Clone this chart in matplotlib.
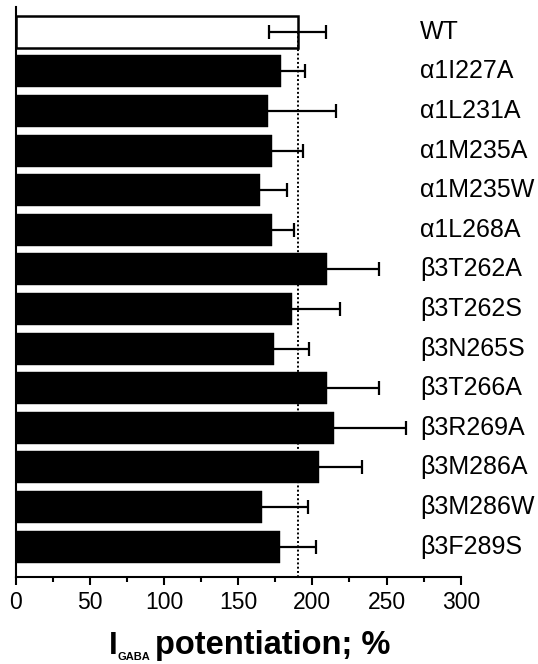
import matplotlib
matplotlib.use("Agg")
import matplotlib.pyplot as plt
from matplotlib.ticker import MultipleLocator

plt.rcParams['font.family'] = ['Liberation Sans', 'DejaVu Sans']

labels = ['WT', 'α1I227A', 'α1L231A', 'α1M235A', 'α1M235W', 'α1L268A',
          'β3T262A', 'β3T262S', 'β3N265S', 'β3T266A', 'β3R269A',
          'β3M286A', 'β3M286W', 'β3F289S']
means = [190, 179, 170, 173, 165, 173, 210, 186, 174, 210, 214.5, 204.5, 166, 178.5]
errs = [19.5, 16, 46, 20.5, 18, 14.5, 35, 32.5, 23.5, 35, 48.5, 29, 31, 24]
colors = ['white'] + ['black'] * (len(labels) - 1)

W, H = 538, 664
fig = plt.figure(figsize=(W / 100, H / 100), dpi=100)
ax = fig.add_axes([0.029, 0.1315, 0.8275, 0.8575])

ypos = list(range(len(labels)))
ax.barh(ypos, means, height=0.81, color=colors, edgecolor='black',
        linewidth=[1.8] + [0.3] * (len(labels) - 1), zorder=2)
# error bars on top (left half is invisible on the black bars anyway)
ax.errorbar(means, ypos, xerr=errs, fmt='none', ecolor='black',
            elinewidth=1.6, capsize=5, capthick=1.6, zorder=3)

# dotted reference line at WT level
ax.vlines(means[0], ypos[0], len(labels), colors='black',
          linestyles=(0, (1, 1.2)), linewidth=1.4, zorder=4)

for y, lab in zip(ypos, labels):
    ax.text(272.5, y, lab, va='center', ha='left', fontsize=18)

ax.set_xlim(0, 300)
ax.set_ylim(len(labels) - 1 + 0.76, -0.62)
ax.xaxis.set_major_locator(MultipleLocator(50))
ax.xaxis.set_minor_locator(MultipleLocator(25))
ax.tick_params(axis='x', which='major', length=6, width=1.5, labelsize=16.5, pad=4.6)
ax.tick_params(axis='x', which='minor', length=3.6, width=1.5)
ax.set_yticks([])
for s in ['top', 'right']:
    ax.spines[s].set_visible(False)
for s in ['left', 'bottom']:
    ax.spines[s].set_linewidth(1.5)

# x label: I with small subscript GABA, then the rest
fig.text(109 / W, 1 - 654.3 / H, 'I', ha='left', va='baseline',
         fontsize=22.5, fontweight='bold')
fig.text(118 / W, 1 - 659.5 / H, 'GABA', ha='left', va='baseline',
         fontsize=8, fontweight='bold')
fig.text(155 / W, 1 - 654.3 / H, 'potentiation; %', ha='left', va='baseline',
         fontsize=23.5, fontweight='bold')

fig.savefig('out.png', dpi=100)
